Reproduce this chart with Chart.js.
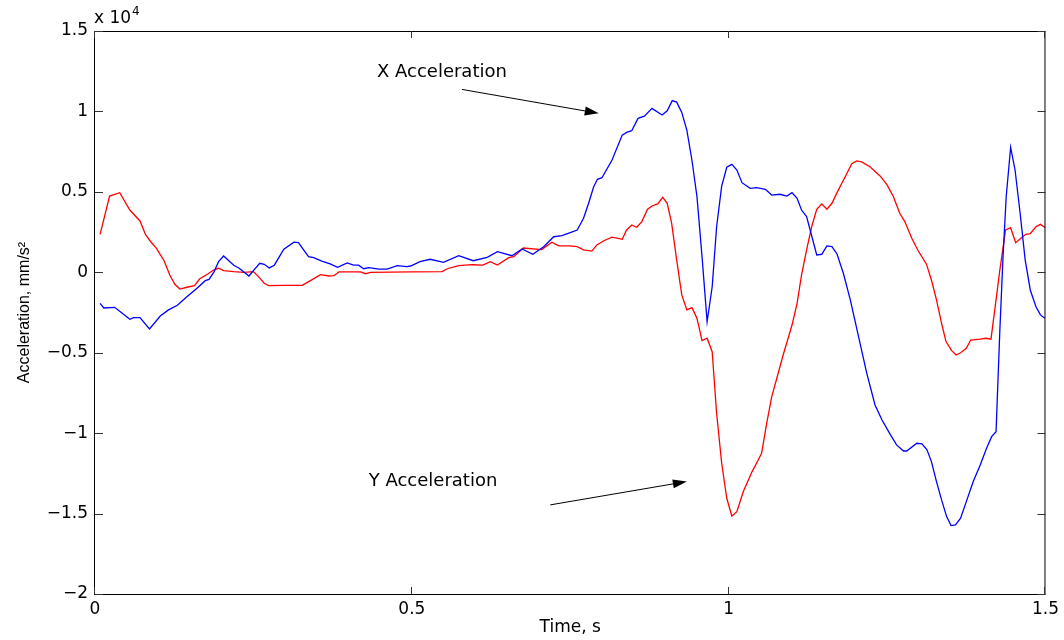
<!DOCTYPE html>
<html>
<head>
<meta charset="utf-8">
<script src="https://cdn.jsdelivr.net/npm/chart.js@4.4.1/dist/chart.umd.min.js"></script>
<style>
  html, body { margin: 0; padding: 0; background: #fff; }
</style>
</head>
<body>
<canvas id="accelChart" width="1064" height="640"></canvas>
<script>
// samples: time in s, acceleration in mm/s^2
const timeX = [0.008, 0.014, 0.031, 0.043, 0.055, 0.061, 0.071, 0.086, 0.103, 0.116, 0.130, 0.145, 0.161, 0.174, 0.180, 0.188, 0.195, 0.203, 0.219, 0.227, 0.243, 0.250, 0.260, 0.267, 0.275, 0.283, 0.298, 0.314, 0.321, 0.337, 0.345, 0.358, 0.371, 0.383, 0.398, 0.408, 0.416, 0.424, 0.432, 0.448, 0.461, 0.477, 0.492, 0.498, 0.513, 0.529, 0.550, 0.574, 0.597, 0.619, 0.635, 0.658, 0.674, 0.691, 0.708, 0.724, 0.737, 0.750, 0.761, 0.771, 0.779, 0.787, 0.793, 0.800, 0.816, 0.832, 0.839, 0.847, 0.857, 0.867, 0.879, 0.895, 0.903, 0.911, 0.918, 0.926, 0.934, 0.942, 0.950, 0.958, 0.966, 0.974, 0.981, 0.989, 0.997, 1.005, 1.013, 1.021, 1.034, 1.044, 1.058, 1.068, 1.081, 1.092, 1.100, 1.108, 1.115, 1.123, 1.139, 1.147, 1.155, 1.163, 1.171, 1.181, 1.192, 1.205, 1.218, 1.231, 1.242, 1.255, 1.265, 1.276, 1.281, 1.297, 1.305, 1.313, 1.320, 1.328, 1.336, 1.344, 1.351, 1.358, 1.366, 1.376, 1.386, 1.397, 1.407, 1.415, 1.422, 1.428, 1.433, 1.438, 1.445, 1.452, 1.460, 1.468, 1.476, 1.485, 1.492, 1.499];
const accelX = [-1930, -2220, -2180, -2550, -2920, -2820, -2820, -3520, -2720, -2340, -2050, -1520, -990, -520, -440, 40, 660, 1010, 440, 270, -230, 100, 560, 500, 270, 440, 1430, 1870, 1840, 970, 910, 700, 520, 310, 580, 440, 440, 220, 290, 200, 200, 410, 350, 390, 660, 810, 620, 1030, 720, 930, 1280, 1030, 1450, 1120, 1590, 2210, 2280, 2460, 2630, 3360, 4290, 5320, 5780, 5880, 6980, 8530, 8700, 8800, 9570, 9710, 10190, 9780, 10040, 10670, 10580, 9940, 8840, 6980, 4700, 970, -3070, -900, 2830, 5360, 6530, 6710, 6360, 5570, 5220, 5260, 5160, 4800, 4850, 4740, 4950, 4600, 3870, 3460, 1080, 1120, 1640, 1590, 1140, -60, -1720, -4000, -6280, -8250, -9180, -10080, -10730, -11110, -11110, -10630, -10670, -11040, -11770, -13010, -14150, -15190, -15750, -15710, -15290, -14150, -13010, -11980, -10940, -10220, -9910, -3590, 970, 4700, 7770, 6360, 3670, 760, -1100, -2140, -2650, -2860];

const timeY = [0.008, 0.015, 0.023, 0.039, 0.055, 0.071, 0.080, 0.088, 0.097, 0.109, 0.118, 0.126, 0.134, 0.145, 0.157, 0.165, 0.178, 0.187, 0.195, 0.203, 0.219, 0.235, 0.250, 0.258, 0.267, 0.274, 0.298, 0.327, 0.340, 0.356, 0.369, 0.377, 0.385, 0.419, 0.427, 0.435, 0.498, 0.548, 0.556, 0.574, 0.595, 0.612, 0.624, 0.635, 0.653, 0.661, 0.676, 0.705, 0.721, 0.732, 0.750, 0.761, 0.771, 0.784, 0.792, 0.803, 0.816, 0.832, 0.839, 0.847, 0.855, 0.863, 0.872, 0.879, 0.888, 0.896, 0.903, 0.910, 0.918, 0.926, 0.934, 0.942, 0.950, 0.958, 0.966, 0.974, 0.981, 0.989, 0.997, 1.005, 1.013, 1.023, 1.037, 1.044, 1.052, 1.060, 1.068, 1.076, 1.086, 1.100, 1.108, 1.115, 1.123, 1.131, 1.139, 1.147, 1.155, 1.163, 1.171, 1.179, 1.186, 1.194, 1.202, 1.210, 1.223, 1.239, 1.250, 1.260, 1.270, 1.278, 1.289, 1.299, 1.312, 1.320, 1.328, 1.336, 1.343, 1.352, 1.359, 1.366, 1.375, 1.382, 1.397, 1.406, 1.414, 1.422, 1.428, 1.437, 1.445, 1.453, 1.463, 1.469, 1.476, 1.485, 1.492, 1.500];
const accelY = [2360, 3460, 4740, 4950, 3870, 3190, 2320, 1900, 1490, 720, -170, -750, -1040, -930, -830, -420, -110, 140, 250, 100, 40, 0, 40, -270, -680, -830, -810, -810, -520, -150, -230, -210, 20, 20, -90, 0, 20, 40, 220, 410, 470, 450, 660, 450, 910, 970, 1510, 1410, 1870, 1640, 1640, 1590, 1390, 1320, 1700, 1960, 2180, 2050, 2630, 2940, 2800, 3150, 3920, 4120, 4250, 4660, 4290, 3050, 760, -1410, -2340, -2200, -2860, -4250, -4100, -4940, -8760, -11870, -14050, -15150, -14880, -13640, -12390, -11870, -11250, -9390, -7730, -6590, -5140, -3280, -1930, -170, 1390, 2830, 3920, 4250, 3920, 4290, 4950, 5570, 6090, 6730, 6920, 6860, 6560, 5990, 5430, 4700, 3670, 3150, 2110, 1340, 520, -480, -1720, -3170, -4310, -4870, -5140, -5000, -4720, -4210, -4160, -4100, -4160, -1720, 140, 2630, 2770, 1840, 2180, 2360, 2400, 2830, 2980, 2770];

const xTicks = [0, 0.5, 1, 1.5];
const xTickLabels = ["0", "0.5", "1", "1.5"];
const yTicks = [-20000, -15000, -10000, -5000, 0, 5000, 10000, 15000];
const yTickLabels = ["\u22122", "\u22121.5", "\u22121", "\u22120.5", "0", "0.5", "1", "1.5"];

// text annotations with arrows, in data coordinates
const notes = [
  { text: "X Acceleration", at: [0.445, 12400], from: [0.579, 11370], to: [0.795, 9880] },
  { text: "Y Acceleration", at: [0.432, -13010], from: [0.7185, -14460], to: [0.934, -13010] }
];

const tickFont = { family: "DejaVu Sans", size: 17 };

const pts = (ts, vs) => ts.map((t, i) => ({ x: t, y: vs[i] }));

// box around the axes with inward ticks, MATLAB style
const framePlugin = {
  id: "frame",
  afterDatasetsDraw(chart) {
    const { ctx, chartArea: a, scales: { x, y } } = chart;
    ctx.save();
    ctx.strokeStyle = "#000";
    ctx.lineWidth = 1;
    ctx.strokeRect(a.left - 0.5, a.top + 0.5, a.right - a.left, a.bottom - a.top);
    ctx.strokeStyle = "#333";
    ctx.beginPath();
    xTicks.forEach(v => {
      const px = Math.round(x.getPixelForValue(v)) - 0.5;
      ctx.moveTo(px, a.bottom); ctx.lineTo(px, a.bottom - 7);
      ctx.moveTo(px, a.top); ctx.lineTo(px, a.top + 7);
    });
    yTicks.forEach(v => {
      const py = Math.round(y.getPixelForValue(v)) + 0.5;
      ctx.moveTo(a.left, py); ctx.lineTo(a.left + 8, py);
      ctx.moveTo(a.right, py); ctx.lineTo(a.right - 8, py);
    });
    ctx.stroke();

    // exponent label above the y axis
    ctx.fillStyle = "#000";
    ctx.textBaseline = "middle";
    ctx.textAlign = "left";
    ctx.font = "17px 'DejaVu Sans'";
    ctx.fillText("x 10", a.left - 1, 19);
    const w = ctx.measureText("x 10").width;
    ctx.font = "12px 'DejaVu Sans'";
    ctx.fillText("4", a.left - 1 + w + 1, 12);
    ctx.restore();
  }
};

const notesPlugin = {
  id: "notes",
  afterDraw(chart) {
    const { ctx, scales: { x, y } } = chart;
    ctx.save();
    ctx.fillStyle = "#000";
    ctx.strokeStyle = "#000";
    ctx.lineWidth = 1;
    ctx.font = "18px 'DejaVu Sans'";
    ctx.textBaseline = "middle";
    ctx.textAlign = "left";
    notes.forEach(n => {
      ctx.fillText(n.text, x.getPixelForValue(n.at[0]), y.getPixelForValue(n.at[1]));
      const x0 = x.getPixelForValue(n.from[0]), y0 = y.getPixelForValue(n.from[1]);
      const x1 = x.getPixelForValue(n.to[0]), y1 = y.getPixelForValue(n.to[1]);
      const ang = Math.atan2(y1 - y0, x1 - x0);
      const len = 14, half = 4.5;
      const bx = x1 - len * Math.cos(ang), by = y1 - len * Math.sin(ang);
      ctx.beginPath();
      ctx.moveTo(x0, y0);
      ctx.lineTo(bx, by);
      ctx.stroke();
      ctx.beginPath();
      ctx.moveTo(x1, y1);
      ctx.lineTo(bx + half * Math.sin(ang), by - half * Math.cos(ang));
      ctx.lineTo(bx - half * Math.sin(ang), by + half * Math.cos(ang));
      ctx.closePath();
      ctx.fill();
    });
    ctx.restore();
  }
};

new Chart(document.getElementById("accelChart").getContext("2d"), {
  type: "line",
  data: {
    datasets: [
      {
        label: "X Acceleration",
        data: pts(timeX, accelX),
        borderColor: "#0000ff",
        borderWidth: 1.3,
        pointRadius: 0,
        tension: 0,
        fill: false
      },
      {
        label: "Y Acceleration",
        data: pts(timeY, accelY),
        borderColor: "#ff0000",
        borderWidth: 1.3,
        pointRadius: 0,
        tension: 0,
        fill: false
      }
    ]
  },
  options: {
    responsive: false,
    animation: false,
    devicePixelRatio: 1,
    layout: { padding: { left: 0, right: 18, top: 31, bottom: 0 } },
    plugins: {
      legend: { display: false },
      tooltip: { enabled: false }
    },
    scales: {
      x: {
        type: "linear",
        min: 0,
        max: 1.5,
        afterBuildTicks: s => { s.ticks = xTicks.map(v => ({ value: v })); },
        afterFit: s => { s.height = 46; },
        grid: { display: false, drawTicks: false, tickLength: 0 },
        border: { display: false },
        ticks: {
          callback: (v, i) => xTickLabels[i],
          font: tickFont,
          color: "#000",
          padding: 5,
          maxRotation: 0,
          autoSkip: false
        },
        title: {
          display: true,
          text: "Time, s",
          font: { family: "DejaVu Sans", size: 17 },
          color: "#000",
          padding: { top: 0, bottom: 2 }
        }
      },
      y: {
        type: "linear",
        min: -20000,
        max: 15000,
        afterBuildTicks: s => { s.ticks = yTicks.map(v => ({ value: v })); },
        afterFit: s => { s.width = 95; },
        grid: { display: false, drawTicks: false, tickLength: 0 },
        border: { display: false },
        ticks: {
          callback: (v, i) => yTickLabels[i],
          font: tickFont,
          color: "#000",
          padding: 7,
          autoSkip: false
        },
        title: {
          display: true,
          text: "Acceleration, mm/s\u00b2",
          font: { family: "Liberation Sans", size: 16 },
          color: "#000",
          padding: { top: 15, bottom: 0 }
        }
      }
    }
  },
  plugins: [framePlugin, notesPlugin]
});
</script>
</body>
</html>
